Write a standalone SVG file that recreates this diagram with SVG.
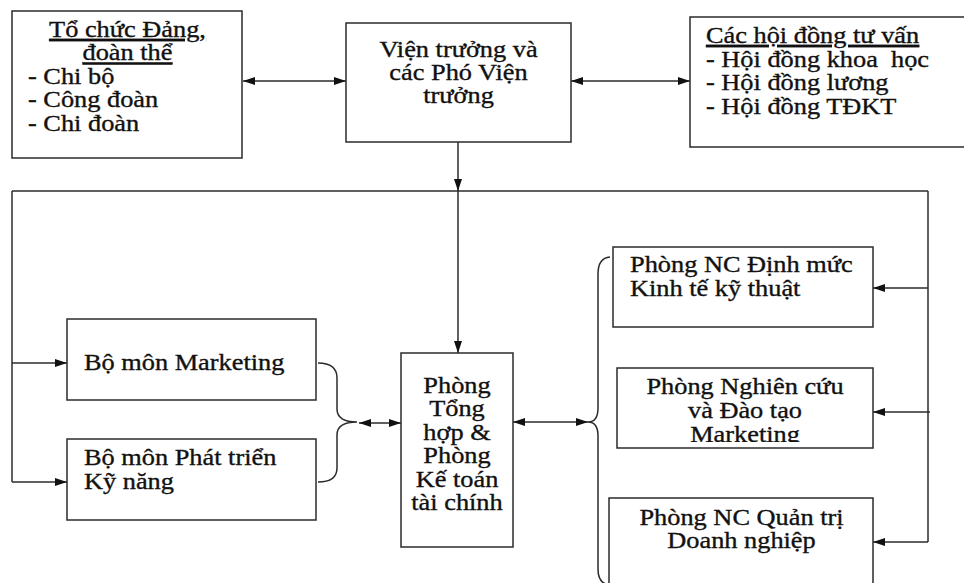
<svg xmlns="http://www.w3.org/2000/svg" width="964" height="583" viewBox="0 0 964 583">
  <style>
    .box{fill:#fff;stroke:#2b2b2b;stroke-width:1.5}
    .t{font-family:"Liberation Serif","DejaVu Serif",serif;font-size:23px;fill:#111;stroke:#111;stroke-width:0.35}
    .c{text-anchor:middle}
    .u{text-decoration:underline}
    .ln{fill:none;stroke:#2b2b2b;stroke-width:1.5}
  </style>
  <defs>
    <marker id="ah" viewBox="0 0 12 8" refX="12" refY="4" markerWidth="12" markerHeight="8" markerUnits="userSpaceOnUse" orient="auto-start-reverse">
      <path d="M0,0L12,4L0,8z" fill="#111"/>
    </marker>
    <clipPath id="clipNC">
      <rect x="617" y="368" width="256" height="74"/>
    </clipPath>
  </defs>
  <rect width="964" height="583" fill="#fff"/>

  <!-- connectors -->
  <g id="connectors">
    <line class="ln" x1="243" y1="81" x2="346" y2="81" marker-start="url(#ah)" marker-end="url(#ah)"/>
    <line class="ln" x1="571" y1="81" x2="690" y2="81" marker-start="url(#ah)" marker-end="url(#ah)"/>
    <line class="ln" x1="458" y1="142" x2="458" y2="191" marker-end="url(#ah)"/>
    <line class="ln" x1="12" y1="191" x2="928" y2="191"/>
    <line class="ln" x1="12" y1="191" x2="12" y2="482"/>
    <line class="ln" x1="12" y1="363" x2="67" y2="363" marker-end="url(#ah)"/>
    <line class="ln" x1="12" y1="482" x2="67" y2="482" marker-end="url(#ah)"/>
    <line class="ln" x1="458" y1="191" x2="458" y2="353" marker-end="url(#ah)"/>
    <path class="ln" d="M318,363 Q337,363 337,378 L337,409 Q337,422 357,422 Q337,422 337,435 L337,468 Q337,482 318,482"/>
    <line class="ln" x1="359" y1="423" x2="401" y2="423" marker-start="url(#ah)" marker-end="url(#ah)"/>
    <line class="ln" x1="513" y1="422" x2="588" y2="422" marker-start="url(#ah)" marker-end="url(#ah)"/>
    <path class="ln" d="M610,257 Q598,258 598,274 L598,408 Q598,422 588,422 Q598,422 598,436 L598,569 Q598,584 610,585"/>
    <line class="ln" x1="928" y1="191" x2="928" y2="542"/>
    <line class="ln" x1="928" y1="288" x2="873" y2="288" marker-end="url(#ah)"/>
    <line class="ln" x1="930" y1="412" x2="873" y2="412" marker-end="url(#ah)"/>
    <line class="ln" x1="928" y1="542" x2="873" y2="542" marker-end="url(#ah)"/>
  </g>

  <!-- party and union organisations -->
  <g id="to-chuc-dang">
    <rect class="box" x="12" y="11" width="230" height="147"/>
    <text class="t c u" transform="translate(127.5 0) scale(1.145 1)"><tspan x="0" y="37">Tổ chức Đảng,</tspan><tspan x="0" y="60.5">đoàn thể</tspan></text>
    <text class="t" transform="translate(28 0) scale(1.145 1)"><tspan x="0" y="84">- Chi bộ</tspan><tspan x="0" y="107.5">- Công đoàn</tspan><tspan x="0" y="131">- Chi đoàn</tspan></text>
  </g>

  <!-- director board -->
  <g id="vien-truong">
    <rect class="box" x="346" y="23" width="225" height="119"/>
    <text class="t c" transform="translate(458.5 0) scale(1.145 1)"><tspan x="0" y="57">Viện trưởng và</tspan><tspan x="0" y="80">các Phó Viện</tspan><tspan x="0" y="103">trưởng</tspan></text>
  </g>

  <!-- advisory councils -->
  <g id="hoi-dong-tu-van">
    <rect class="box" x="690" y="17" width="290" height="130"/>
    <text class="t" transform="translate(706 0) scale(1.145 1)"><tspan class="u" x="0" y="43">Các hội đồng tư vấn</tspan><tspan x="0" y="67">- Hội đồng khoa&#160; học</tspan><tspan x="0" y="90.5">- Hội đồng lương</tspan><tspan x="0" y="114">- Hội đồng TĐKT</tspan></text>
  </g>

  <g id="bo-mon-marketing">
    <rect class="box" x="67" y="319" width="249" height="81"/>
    <text class="t" transform="translate(84 0) scale(1.145 1)"><tspan x="0" y="370">Bộ môn Marketing</tspan></text>
  </g>

  <g id="bo-mon-ky-nang">
    <rect class="box" x="67" y="439" width="249" height="81"/>
    <text class="t" transform="translate(84 0) scale(1.145 1)"><tspan x="0" y="465">Bộ môn Phát triển</tspan><tspan x="0" y="489">Kỹ năng</tspan></text>
  </g>

  <g id="phong-tong-hop">
    <rect class="box" x="401" y="353" width="112" height="194"/>
    <text class="t c" transform="translate(457 0) scale(1.145 1)"><tspan x="0" y="393">Phòng</tspan><tspan x="0" y="416">Tổng</tspan><tspan x="0" y="440">hợp &amp;</tspan><tspan x="0" y="463">Phòng</tspan><tspan x="0" y="487">Kế toán</tspan><tspan x="0" y="510">tài chính</tspan></text>
  </g>

  <g id="phong-dinh-muc">
    <rect class="box" x="613" y="247" width="260" height="80"/>
    <text class="t" transform="translate(630 0) scale(1.145 1)"><tspan x="0" y="272.5">Phòng NC Định mức</tspan><tspan x="0" y="296">Kinh tế kỹ thuật</tspan></text>
  </g>

  <g id="phong-nghien-cuu">
    <rect class="box" x="617" y="368" width="256" height="80"/>
    <g clip-path="url(#clipNC)">
      <text class="t c" transform="translate(745 0) scale(1.145 1)"><tspan x="0" y="394">Phòng Nghiên cứu</tspan><tspan x="0" y="418">và Đào tạo</tspan><tspan x="0" y="442">Marketing</tspan></text>
    </g>
  </g>

  <g id="phong-quan-tri">
    <rect class="box" x="609" y="498" width="264" height="100"/>
    <text class="t c" transform="translate(741.5 0) scale(1.145 1)"><tspan x="0" y="525">Phòng NC Quản trị</tspan><tspan x="0" y="548">Doanh nghiệp</tspan></text>
  </g>
</svg>
